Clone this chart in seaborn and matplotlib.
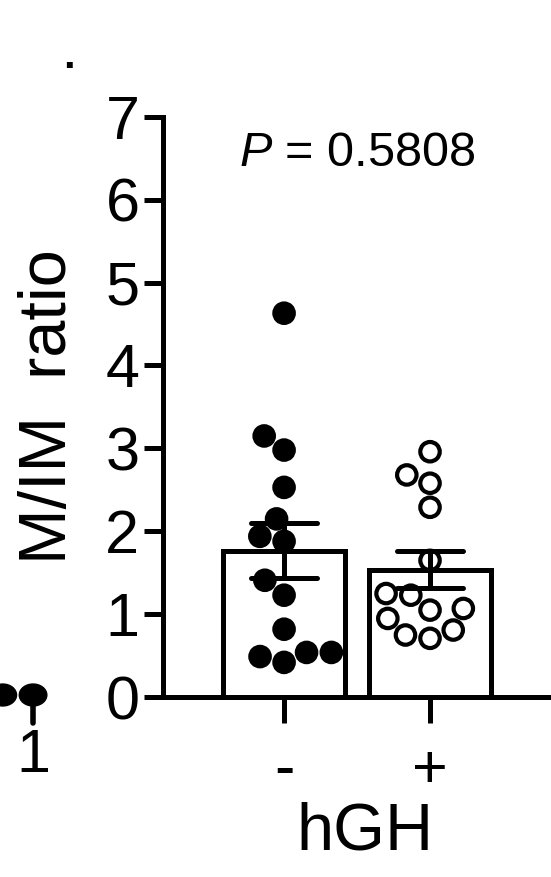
import pandas as pd
import matplotlib.pyplot as plt
import seaborn as sns
from matplotlib.patches import Ellipse

# values
minus_vals = [4.63, 3.15, 2.98, 2.53, 2.15, 1.94, 1.88, 1.41, 1.23, 0.82, 0.54, 0.54, 0.49, 0.42]
plus_vals = [2.96, 2.68, 2.58, 2.29, 1.65, 1.25, 1.23, 1.07, 1.05, 0.95, 0.81, 0.75, 0.71]
groups = ["-", "+"]
y_ticks = [0, 1, 2, 3, 4, 5, 6, 7]
p_text = "$\\it{P}$ = 0.5808"

df = pd.DataFrame({
    "hGH": ["-"] * len(minus_vals) + ["+"] * len(plus_vals),
    "ratio": minus_vals + plus_vals,
})

sns.set_style("ticks")
plt.rcParams["font.family"] = ["Liberation Sans", "DejaVu Sans"]
plt.rcParams["mathtext.fontset"] = "custom"
plt.rcParams["mathtext.rm"] = "Liberation Sans"
plt.rcParams["mathtext.it"] = "Liberation Sans:italic"
for k in ["text.color", "axes.labelcolor", "xtick.color", "ytick.color", "axes.edgecolor"]:
    plt.rcParams[k] = "black"

fig = plt.figure(figsize=(5.51, 8.77), dpi=100)
ax = fig.add_axes([0.296, 0.205, 0.704, 0.662])

sns.barplot(data=df, x="hGH", y="ratio", order=groups, errorbar="se",
            width=0.835, color="white", edgecolor="black", linewidth=3.6,
            capsize=0.45, err_kws={"color": "black", "linewidth": 3.6}, ax=ax)
for ln in ax.lines:
    ln.set_zorder(10)

sns.swarmplot(data=df, x="hGH", y="ratio", order=groups, hue="hGH",
              palette={"-": "black", "+": "white"}, edgecolor="black",
              linewidth=3, size=14, legend=False, ax=ax, zorder=5)

ax.set_xlim(-0.829, 1.829)
ax.set_ylim(0, 7)
ax.set_yticks(y_ticks)
ax.tick_params(axis="y", labelsize=44, width=3.6, length=14, pad=3)
ax.tick_params(axis="x", labelsize=44, width=3.6, length=19, pad=14)
for s in ["left", "bottom"]:
    ax.spines[s].set_linewidth(3.6)
sns.despine(ax=ax)

ax.set_ylabel("M/IM  ratio", fontsize=48, labelpad=18)
ax.set_xlabel("hGH", fontsize=48)
ax.xaxis.set_label_coords(0.521, -0.18)
ax.text(0.5, 6.55, p_text, fontsize=35, ha="center", va="center")

# bits of the neighbouring panel left in the crop
fig.text(0.06, 0.137, "1", fontsize=44, ha="center", va="center")
fig.text(0.125, 0.935, ".", fontsize=30, ha="center", va="center", fontweight="bold")
for cx in [0.005, 0.06]:
    fig.add_artist(Ellipse((cx, 1 - 695 / 877), 0.05, 0.025, color="black"))
fig.add_artist(plt.Line2D([0.06, 0.06], [1 - 695 / 877, 1 - 723 / 877], color="black", lw=4))

fig.savefig("out.png", dpi=100)
